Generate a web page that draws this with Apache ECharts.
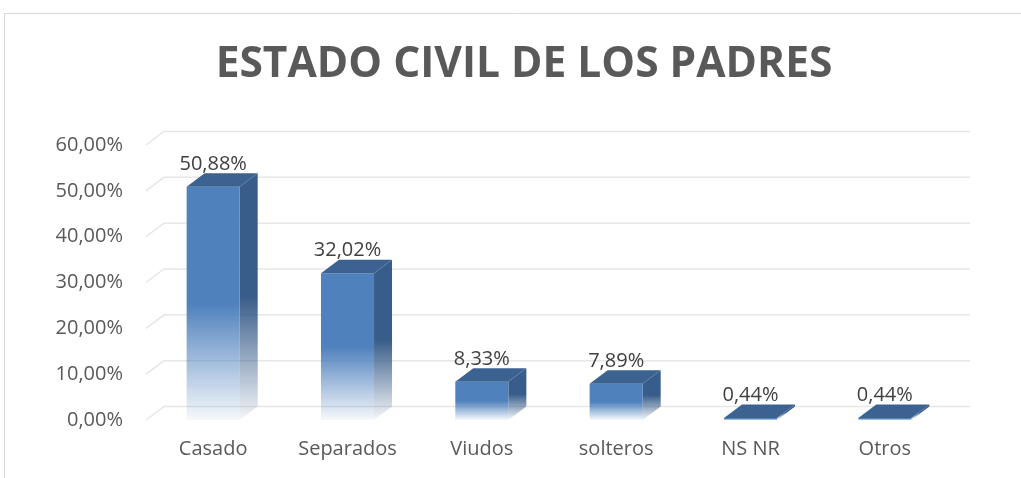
<!DOCTYPE html>
<html>
<head>
    <meta charset='utf-8'>
    <script src="https://cdn.jsdelivr.net/npm/echarts@6/dist/echarts.min.js"></script>
</head>
<body>
<style>
    html, body, #main {
        width: 100%;
        height: 100%;
        margin: 0;
        padding: 0;
        background: #fff;
    }
</style>
<div id="main"></div>
<script>
    var categories = ['Casado', 'Separados', 'Viudos', 'solteros', 'NS NR', 'Otros'];
    var values = [50.88, 32.02, 8.33, 7.89, 0.44, 0.44];
    var yTicks = [0, 10, 20, 30, 40, 50, 60];

    // depth offset of the fake 3d
    var DX = 18, DY = -13.5;
    var FONT = 'Open Sans';

    function pct(v) {
        return v.toFixed(2).replace('.', ',') + '%';
    }

    var chart = echarts.init(document.getElementById('main'));

    function fade(c) {
        return new echarts.graphic.LinearGradient(0, 0, 0, 1, [
            {offset: 0, color: c},
            {offset: 0.5, color: c},
            {offset: 1, color: echarts.color.modifyAlpha(c, 0.05)}
        ]);
    }

    chart.setOption({
        animation: false,
        title: {
            text: 'ESTADO CIVIL DE LOS PADRES',
            left: 519,
            textAlign: 'center',
            top: 38,
            textStyle: {
                fontFamily: FONT,
                fontWeight: 'bold',
                fontSize: 42.5,
                color: '#595959'
            }
        },
        graphic: [{
            type: 'rect',
            shape: {x: 4.5, y: 13.5, width: 1200, height: 600},
            style: {fill: null, stroke: '#d9d9d9', lineWidth: 1},
            silent: true
        }],
        grid: {left: 146, right: 69, top: 145, bottom: 58},
        xAxis: {
            type: 'category',
            data: categories,
            axisLine: {show: false},
            axisTick: {show: false},
            axisLabel: {
                fontFamily: FONT, fontSize: 20, color: '#595959', margin: 19
            }
        },
        yAxis: {
            type: 'value',
            min: 0,
            max: 60,
            interval: 10,
            splitLine: {show: false},
            axisLabel: {
                fontFamily: FONT, fontSize: 20, color: '#595959', margin: 23,
                formatter: function (v) { return pct(v); }
            }
        },
        series: [{
            type: 'custom',
            silent: true,
            z: 1,
            data: yTicks.map(function (t) { return [0, t]; }),
            encode: {x: 0, y: 1},
            renderItem: function (params, api) {
                var cs = params.coordSys;
                var y = api.coord([0, api.value(1)])[1];
                return {
                    type: 'polyline',
                    shape: {points: [[cs.x, y], [cs.x + DX, y + DY], [cs.x + cs.width + DX, y + DY]]},
                    style: {fill: null, stroke: '#e6e6e6', lineWidth: 1.5}
                };
            }
        }, {
            type: 'custom',
            z: 2,
            data: values.map(function (v, i) { return [i, v]; }),
            encode: {x: 0, y: 1},
            renderItem: function (params, api) {
                var i = api.value(0), v = api.value(1);
                var top = api.coord([i, v]);
                var base = api.coord([i, 0]);
                var w = api.size([1, 0])[0] * 0.395;
                var xl = top[0] - w / 2, xr = top[0] + w / 2;
                var yt = top[1], yb = base[1];
                var children = [];
                children.push({
                    type: 'polygon',
                    shape: {points: [[xr, yt], [xr + DX, yt + DY], [xr + DX, yb + DY], [xr, yb]]},
                    style: {fill: fade('#385d8a')}
                });
                children.push({
                    type: 'rect',
                    shape: {x: xl, y: yt, width: w, height: Math.max(yb - yt, 1)},
                    style: {fill: fade('#4f81bd')}
                });
                children.push({
                    type: 'polygon',
                    shape: {points: [[xl, yt], [xr, yt], [xr + DX, yt + DY], [xl + DX, yt + DY]]},
                    style: {fill: '#3b6291'}
                });
                children.push({
                    type: 'text',
                    x: top[0],
                    y: yt - 13,
                    style: {
                        text: pct(v),
                        fontFamily: FONT,
                        fontSize: 20,
                        fill: '#404040',
                        align: 'center',
                        verticalAlign: 'bottom'
                    }
                });
                return {type: 'group', children: children};
            }
        }]
    });
</script>
</body>
</html>
